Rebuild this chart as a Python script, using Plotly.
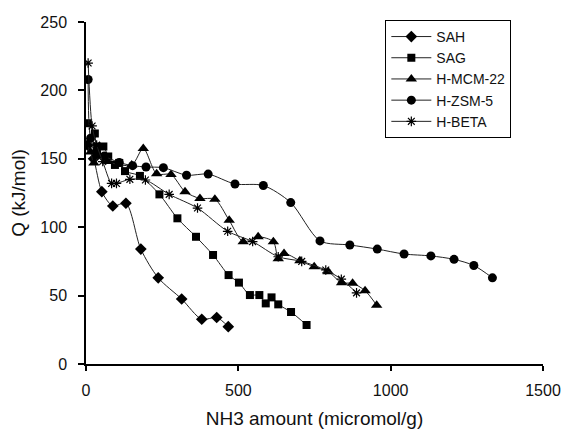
import plotly.graph_objects as go

# ---- data ----
sah_x = [5, 25, 52, 88, 131, 180, 237, 314, 380, 429, 467]
sah_y = [160, 150, 126, 115.5, 117.5, 84, 63, 47.5, 32.7, 34, 27.3]

sag_x = [7, 29, 35, 57, 73, 95, 109, 128, 177, 241, 300, 361, 417, 468, 502, 538, 569, 590, 609, 631, 673, 724]
sag_y = [176, 168.5, 159, 159, 151.7, 145.5, 147, 141, 137.5, 124, 106.5, 93, 79.7, 65, 59.5, 50.4, 50.4, 44.3, 48.7, 43.6, 38, 28.5]

mcm_x = [5, 15, 26, 45, 70, 150, 188, 232, 279, 325, 374, 423, 470, 516, 565, 615, 631, 650, 702, 749, 795, 839, 875, 916, 954]
mcm_y = [160, 155, 147, 152, 148, 145.5, 157.6, 139, 138.5, 126, 121, 120.5, 105, 89.4, 93, 89.4, 77, 80.8, 75.5, 71, 67.5, 59.4, 59, 53.6, 43]

zsm_x = [7, 15, 35, 60, 109, 153, 197, 254, 330, 401, 489, 582, 672, 768, 866, 956, 1044, 1132, 1208, 1273, 1334]
zsm_y = [208, 165, 155, 152, 147.3, 145, 144, 143.5, 138, 138.8, 131.6, 130.5, 118, 90, 87, 84, 80.4, 79, 76.5, 72, 63]

beta_x = [7, 20, 35, 55, 84, 100, 144, 195, 273, 366, 465, 547, 631, 708, 787, 838, 888]
beta_y = [220, 174, 160, 148, 132, 132, 135, 134.5, 124, 114, 97, 89.5, 78.4, 75, 68.7, 62, 52]

x_ticks = [0, 500, 1000, 1500]
y_ticks = [0, 50, 100, 150, 200, 250]

series = [
    ("SAH", sah_x, sah_y, dict(symbol="diamond", size=9, color="black")),
    ("SAG", sag_x, sag_y, dict(symbol="square", size=8, color="black")),
    ("H-MCM-22", mcm_x, mcm_y, dict(symbol="triangle-up", size=10, color="black")),
    ("H-ZSM-5", zsm_x, zsm_y, dict(symbol="circle", size=9, color="black")),
    ("H-BETA", beta_x, beta_y, dict(symbol="asterisk-open", size=8, color="black",
                                      line=dict(color="black", width=1.2))),
]

fig = go.Figure()
for name, xs, ys, mk in series:
    fig.add_trace(go.Scatter(
        x=xs, y=ys, name=name, mode="lines+markers",
        line=dict(color="#222", width=1, shape="spline", smoothing=0.8),
        marker=mk,
    ))

font = "Liberation Sans, Arial, sans-serif"
fig.update_layout(
    width=564, height=435,
    margin=dict(l=86, r=21, t=22, b=71),
    paper_bgcolor="white", plot_bgcolor="white",
    font=dict(family=font, size=16, color="#111"),
    showlegend=True,
    legend=dict(
        x=0.655, y=1.006, xanchor="left", yanchor="top",
        bordercolor="black", borderwidth=1, bgcolor="white",
        font=dict(family=font, size=14, color="#111"),
        tracegroupgap=0, itemwidth=40,
    ),
)
fig.update_xaxes(
    range=[0, 1500], tickvals=x_ticks, ticktext=[str(v) for v in x_ticks],
    showgrid=False, zeroline=False, showline=True, linecolor="black", linewidth=1.5,
    ticks="outside", ticklen=5, tickcolor="black", tickwidth=1.5, ticklabelstandoff=6,
    automargin=False,
    title=dict(text="NH3 amount (micromol/g)", font=dict(size=19), standoff=14),
)
fig.update_yaxes(
    range=[0, 250], tickvals=y_ticks, ticktext=[str(v) for v in y_ticks],
    showgrid=False, zeroline=False, showline=True, linecolor="black", linewidth=1.5,
    ticks="outside", ticklen=6, tickcolor="black", tickwidth=1.5, ticklabelstandoff=8,
    automargin=False,
    title=dict(text="Q (kJ/mol)", font=dict(size=19), standoff=10),
)

fig.write_html("out.html")
